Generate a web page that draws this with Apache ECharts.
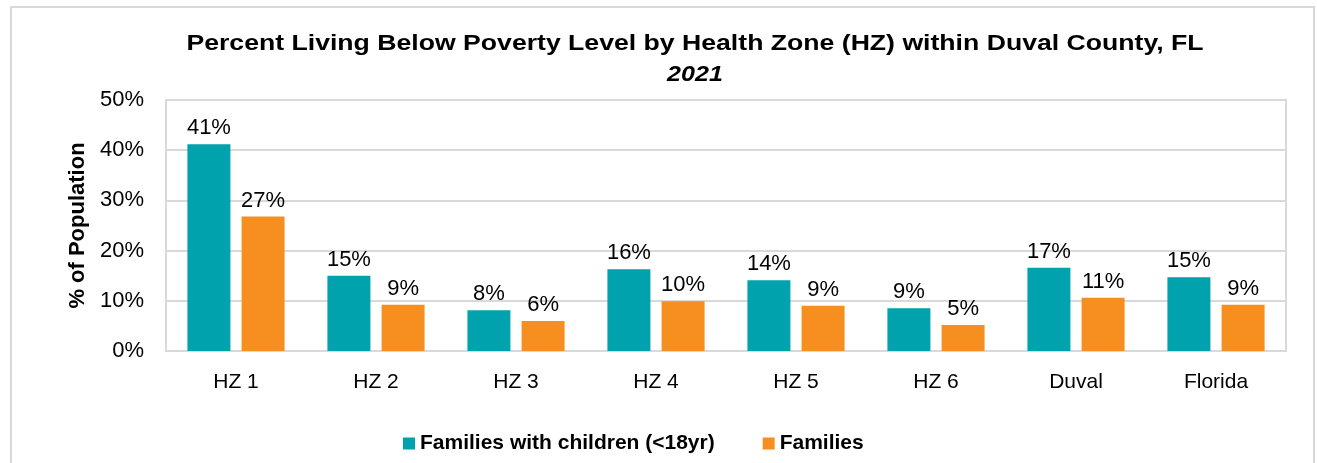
<!DOCTYPE html>
<html>
<head>
<meta charset="utf-8">
<script src="https://cdn.jsdelivr.net/npm/echarts@6/dist/echarts.min.js"></script>
<style>
html,body{margin:0;padding:0;background:#fff;}
#chart{width:1317px;height:463px;}
</style>
</head>
<body>
<div id="chart"></div>
<script>
const categories = ['HZ 1', 'HZ 2', 'HZ 3', 'HZ 4', 'HZ 5', 'HZ 6', 'Duval', 'Florida'];
const familiesWithChildren = [41.2, 15.0, 8.1, 16.3, 14.1, 8.5, 16.6, 14.7];
const families = [26.8, 9.2, 6.0, 9.9, 9.0, 5.2, 10.6, 9.2];
const seriesNames = ['Families with children (<18yr)', 'Families'];
const titleText = 'Percent Living Below Poverty Level by Health Zone (HZ) within Duval County, FL';
const subtitleText = '2021';
const yAxisName = '% of Population';

const FONT = 'Arial, "Liberation Sans", sans-serif';
const chart = echarts.init(document.getElementById('chart'));
const labelStyle = {
  show: true, position: 'top', distance: 5,
  color: '#000', fontSize: 22, fontFamily: FONT,
  formatter: p => Math.round(p.value) + '%'
};
chart.setOption({
  animation: false,
  graphic: [
    { type: 'rect', shape: { x: 11, y: 7, width: 1303, height: 470 },
      style: { fill: 'none', stroke: '#d9d9d9', lineWidth: 2 }, silent: true, z: -1 },
    { type: 'text', x: 695, y: 44, scaleX: 1.21, style: { text: titleText, textAlign: 'center', textVerticalAlign: 'middle',
      font: 'bold 22px ' + FONT, fill: '#000' } },
    { type: 'text', x: 695, y: 75, scaleX: 1.14, style: { text: subtitleText, textAlign: 'center', textVerticalAlign: 'middle',
      font: 'italic bold 22px ' + FONT, fill: '#000' } }
  ],
  grid: { left: 166, top: 100, right: 31, bottom: 112, show: true, borderColor: '#d9d9d9', borderWidth: 2 },
  legend: {
    left: 403, top: 433, padding: 0, itemWidth: 12, itemHeight: 12, itemGap: 48, itemTextGap: 5,
    icon: 'rect',
    textStyle: { fontSize: 21, fontWeight: 'bold', fontFamily: FONT, color: '#000' },
    data: seriesNames
  },
  xAxis: {
    type: 'category', data: categories,
    axisLine: { show: true, lineStyle: { color: '#d9d9d9', width: 2 } },
    axisTick: { show: false },
    axisLabel: { color: '#000', fontSize: 21, fontFamily: FONT, margin: 21 }
  },
  yAxis: {
    type: 'value', min: 0, max: 50, interval: 10,
    name: yAxisName, nameLocation: 'middle', nameGap: 76, nameRotate: 90,
    nameTextStyle: { fontSize: 22, fontWeight: 'bold', fontFamily: FONT, color: '#000' },
    axisLine: { show: false }, axisTick: { show: false },
    axisLabel: { color: '#000', fontSize: 22, fontFamily: FONT, margin: 22, formatter: v => v + '%' },
    splitLine: { lineStyle: { color: '#d9d9d9', width: 2 } }
  },
  series: [
    { name: seriesNames[0], type: 'bar', data: familiesWithChildren, barWidth: 43, barGap: '26%',
      itemStyle: { color: '#00A2AD' }, label: labelStyle },
    { name: seriesNames[1], type: 'bar', data: families, barWidth: 43,
      itemStyle: { color: '#F68F1F' }, label: labelStyle }
  ]
});
</script>
</body>
</html>
